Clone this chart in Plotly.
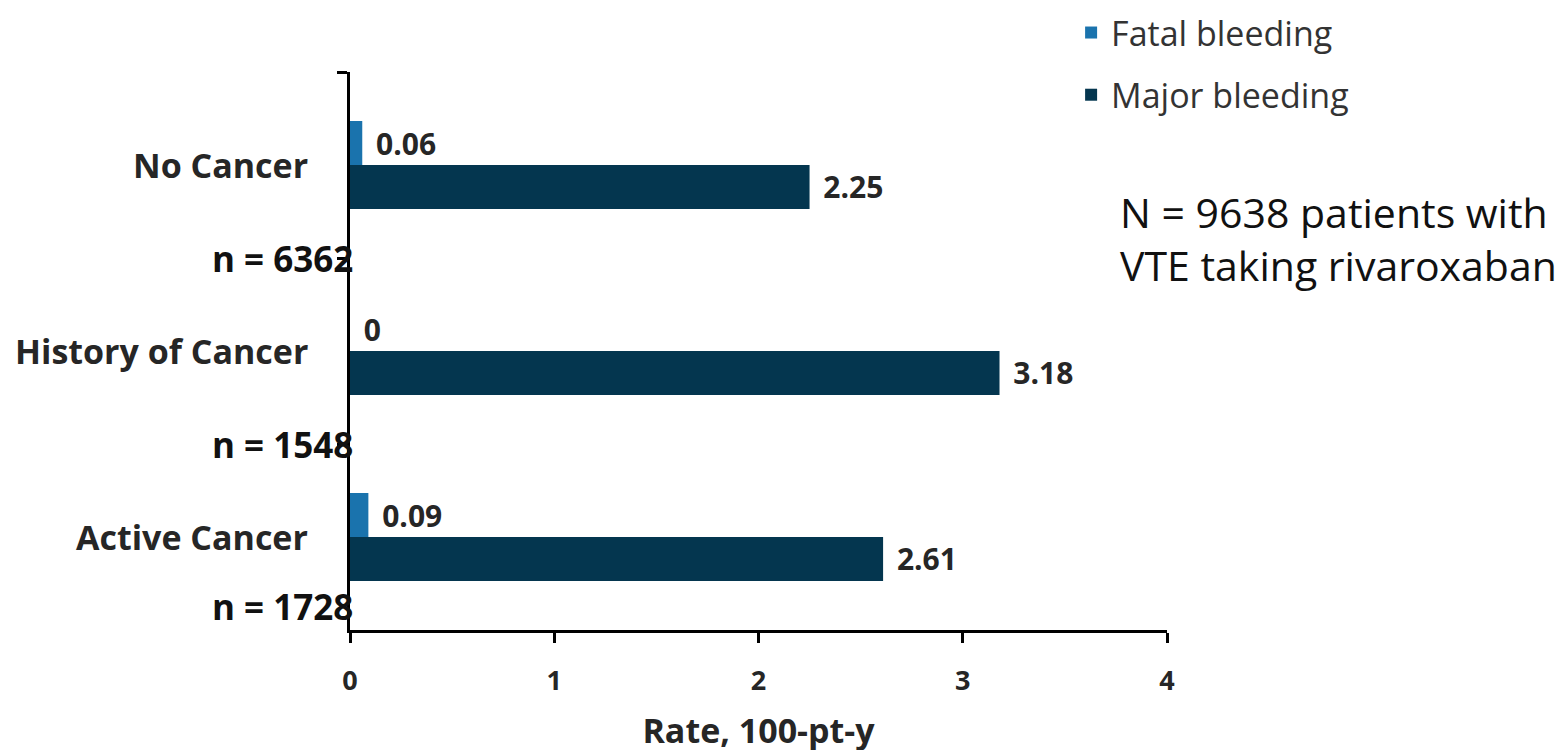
import plotly.graph_objects as go

categories = ["No Cancer", "History of Cancer", "Active Cancer"]
n_labels = ["n = 6362", "n = 1548", "n = 1728"]
fatal = [0.06, 0, 0.09]
major = [2.25, 3.18, 2.61]
x_ticks = [0, 1, 2, 3, 4]

FONT = "Open Sans"
TXT = "#262626"
PAD = "\u00a0\u200a"

fig = go.Figure()
fig.add_trace(go.Bar(
    y=categories, x=fatal, orientation="h", name="Fatal bleeding",
    legendgroup="f",
    marker=dict(color="#1a73ad", line=dict(width=0)),
    text=[PAD + str(v) for v in fatal], textposition="outside", cliponaxis=False,
    textfont=dict(family=FONT, size=30, color=TXT, weight="bold"),
))
fig.add_trace(go.Bar(
    y=categories, x=major, orientation="h", name="Major bleeding",
    legendgroup="m",
    marker=dict(color="#04364f", line=dict(width=0)),
    text=[PAD + str(v) for v in major], textposition="outside", cliponaxis=False,
    textfont=dict(family=FONT, size=30, color=TXT, weight="bold"),
))

annotations = []
for i, c in enumerate(categories):
    annotations.append(dict(
        x=0, xref="paper", y=i, yref="y", text=c, showarrow=False,
        xanchor="right", yanchor="middle", xshift=-40,
        font=dict(family=FONT, size=34, color=TXT, weight="bold"),
    ))
    last = i == len(categories) - 1
    annotations.append(dict(
        x=0, xref="paper", y=i + 0.5, yref="y", text=n_labels[i], showarrow=False,
        xanchor="right", yanchor="middle", xshift=5, yshift=24 if last else 0,
        font=dict(family=FONT, size=35, color="#111111", weight="bold"),
    ))
annotations.append(dict(
    x=0.94, xref="paper", y=0.7016, yref="paper", showarrow=False,
    text="N = 9638 patients with<br>VTE taking rivaroxaban",
    xanchor="left", yanchor="middle", align="left",
    font=dict(family=FONT, size=41, color="#111111"),
))

fig.update_layout(
    width=1568, height=750,
    margin=dict(l=342, r=409, t=64, b=128, autoexpand=False),
    paper_bgcolor="white", plot_bgcolor="white",
    barmode="group", bargap=0.527, bargroupgap=0,
    showlegend=True,
    legend=dict(
        x=0.678, xref="container", xanchor="left",
        y=1.122, yref="paper", yanchor="top",
        font=dict(family=FONT, size=34, color="#333333"),
        itemsizing="constant", tracegroupgap=15, traceorder="grouped",
        bgcolor="rgba(0,0,0,0)",
    ),
    annotations=annotations,
    xaxis=dict(
        range=[0, 4], tickvals=x_ticks, ticktext=[str(t) for t in x_ticks],
        showline=True, linecolor="black", linewidth=3,
        ticks="outside", ticklen=10, tickwidth=3, tickcolor="black",
        showgrid=False, zeroline=False, ticklabelstandoff=15,
        tickfont=dict(family=FONT, size=27, color=TXT, weight="bold"),
        title=dict(text="Rate, 100-pt-y", standoff=22,
                   font=dict(family=FONT, size=34, color=TXT, weight="bold")),
    ),
    yaxis=dict(
        type="category", range=[len(categories) - 0.5, -0.5], autorange=False,
        showline=True, linecolor="black", linewidth=3,
        ticks="outside", ticklen=10, tickwidth=3, tickcolor="black",
        tickson="boundaries", showticklabels=False,
        showgrid=False, zeroline=False,
    ),
)

fig.write_html("out.html")
